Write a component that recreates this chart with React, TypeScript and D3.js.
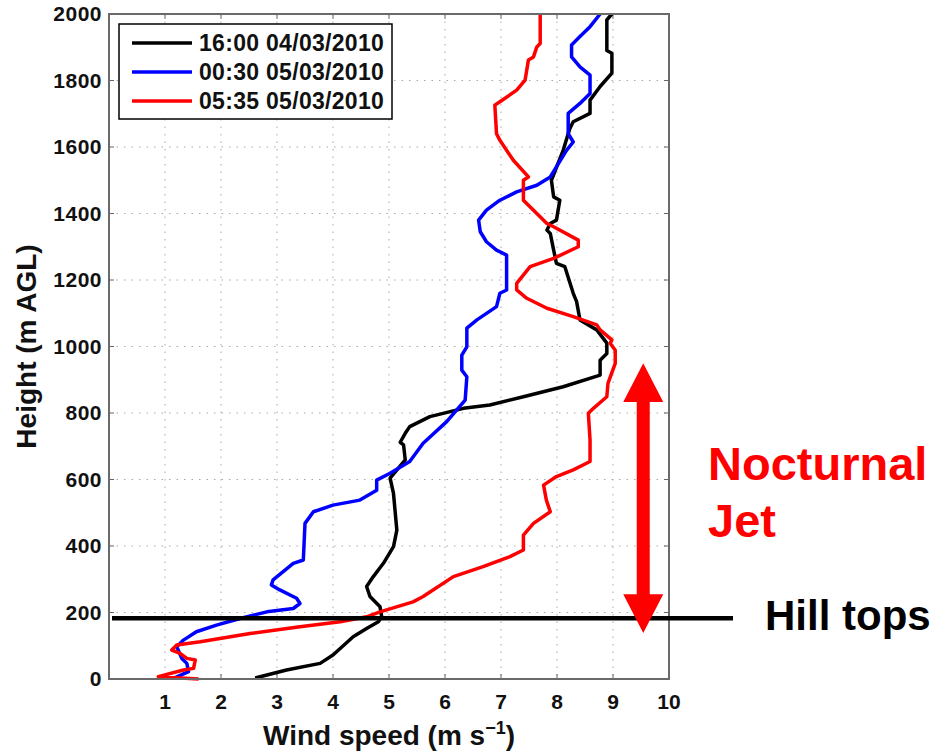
import React from "react";
import * as d3 from "d3";

// ---- data: [wind speed (m/s), height (m AGL)] ----
const black1600: [number, number][] = [
  [2.61, 3], [3.17, 27], [3.77, 47], [4.0, 72], [4.36, 127], [4.6, 152], [4.81, 172], [4.87, 187],
  [4.84, 217], [4.66, 248], [4.6, 278], [4.72, 308], [4.9, 348], [5.08, 398], [5.14, 448],
  [5.08, 558], [5.02, 604], [5.29, 659], [5.26, 704], [5.2, 712], [5.29, 739], [5.37, 759],
  [5.73, 789], [6.33, 814], [6.8, 824], [7.4, 849], [8.11, 879], [8.77, 914], [8.77, 959],
  [8.89, 979], [8.89, 1010], [8.71, 1050], [8.41, 1080], [8.35, 1135], [8.29, 1160],
  [8.14, 1240], [7.99, 1250], [7.94, 1290], [7.88, 1340], [7.82, 1350], [7.88, 1370],
  [7.99, 1380], [8.05, 1440], [7.94, 1450], [7.9, 1500], [8.11, 1590], [8.23, 1656],
  [8.29, 1676], [8.59, 1701], [8.59, 1741], [8.77, 1782], [8.98, 1822], [8.98, 1882],
  [8.89, 1890], [8.89, 1982], [8.98, 2000],
];
const blue0030: [number, number][] = [
  [1.15, 2], [1.42, 22], [1.39, 47], [1.3, 62], [1.21, 97], [1.33, 117], [1.56, 142],
  [1.92, 162], [2.34, 182], [2.82, 202], [3.29, 212], [3.41, 227], [3.35, 243], [3.05, 268],
  [2.9, 283], [2.93, 298], [3.29, 348], [3.47, 358], [3.5, 468], [3.65, 503], [4.0, 523],
  [4.48, 538], [4.78, 568], [4.78, 598], [5.02, 619], [5.37, 654], [5.61, 709], [6.03, 774],
  [6.36, 839], [6.39, 909], [6.3, 929], [6.3, 974], [6.39, 999], [6.39, 1055], [6.57, 1080],
  [6.92, 1120], [6.98, 1160], [7.1, 1170], [7.1, 1275], [6.92, 1290], [6.74, 1315],
  [6.63, 1345], [6.6, 1380], [6.74, 1410], [6.98, 1440], [7.28, 1465], [7.64, 1485],
  [7.88, 1510], [8.17, 1590], [8.29, 1615], [8.2, 1640], [8.2, 1701], [8.41, 1731],
  [8.59, 1761], [8.59, 1816], [8.41, 1841], [8.26, 1871], [8.26, 1907], [8.41, 1932],
  [8.59, 1962], [8.77, 2000],
];
const red0535: [number, number][] = [
  [1.6, 0], [0.88, 7], [1.33, 27], [1.51, 32], [1.54, 57], [1.39, 62], [1.27, 77], [1.12, 87],
  [1.21, 102], [1.63, 112], [2.52, 137], [3.41, 157], [4.13, 172], [4.6, 187], [4.84, 202],
  [5.43, 232], [5.61, 248], [6.15, 308], [6.68, 338], [7.16, 368], [7.4, 388], [7.4, 433],
  [7.58, 468], [7.88, 503], [7.81, 538], [7.76, 583], [7.99, 609], [8.29, 629], [8.59, 654],
  [8.59, 719], [8.56, 799], [8.65, 814], [8.89, 849], [8.91, 889], [9.04, 949], [9.04, 989],
  [8.95, 1010], [8.98, 1020], [8.77, 1050], [8.71, 1065], [8.29, 1090], [7.82, 1115],
  [7.46, 1145], [7.28, 1170], [7.28, 1190], [7.52, 1240], [7.94, 1265], [8.38, 1300],
  [8.38, 1320], [7.94, 1360], [7.82, 1370], [7.4, 1440], [7.4, 1500], [7.49, 1510],
  [7.22, 1560], [6.98, 1620], [6.92, 1640], [6.89, 1726], [6.98, 1736], [7.28, 1771],
  [7.43, 1801], [7.49, 1862], [7.58, 1871], [7.64, 1901], [7.7, 1911], [7.7, 2000],
];

const seriesNames = ["16:00 04/03/2010", "00:30 05/03/2010", "05:35 05/03/2010"];
const seriesColors = ["#000000", "#0000ff", "#ff0000"];
const seriesData = [black1600, blue0030, red0535];

const xTicks = [1, 2, 3, 4, 5, 6, 7, 8, 9, 10];
const yTicks = [0, 200, 400, 600, 800, 1000, 1200, 1400, 1600, 1800, 2000];

const hillTopHeight = 183;
const jetArrow = { x: 9.54, bottom: 138, top: 950, headLen: 117 };

const W = 932;
const H = 752;
const left = 109;
const right = 669;
const top = 14;
const bottom = 679;

export default function App() {
  const x = d3.scaleLinear().domain([0, 10]).range([left, right]);
  const y = d3.scaleLinear().domain([0, 2000]).range([bottom, top]);
  const line = d3
    .line<[number, number]>()
    .x((d) => x(d[0]))
    .y((d) => y(d[1]));

  const font = "'Liberation Sans', Arial, Helvetica, sans-serif";

  // arrow polygon
  const ax = x(jetArrow.x);
  const yTop = y(jetArrow.top);
  const yBot = y(jetArrow.bottom);
  const hl = (jetArrow.headLen * (bottom - top)) / 2000;
  const hw = 20;
  const sw = 6.5;
  const arrowPath =
    [
      [ax, yTop],
      [ax + hw, yTop + hl],
      [ax + sw, yTop + hl],
      [ax + sw, yBot - hl],
      [ax + hw, yBot - hl],
      [ax, yBot],
      [ax - hw, yBot - hl],
      [ax - sw, yBot - hl],
      [ax - sw, yTop + hl],
      [ax - hw, yTop + hl],
    ]
      .map((p, i) => (i === 0 ? "M" : "L") + p[0] + "," + p[1])
      .join("") + "Z";

  const legendX = 119;
  const legendY = 24;

  return (
    <svg
      width={W}
      height={H}
      style={{ position: "absolute", left: 0, top: 0, background: "#fff" }}
      fontFamily={font}
    >
      <rect x={0} y={0} width={W} height={H} fill="#fff" />
      {/* grid */}
      {xTicks.slice(0, -1).map((t) => (
        <line key={"gx" + t} x1={x(t)} x2={x(t)} y1={top} y2={bottom} stroke="#a8a8a8" strokeWidth={1} strokeDasharray="1.5,6" />
      ))}
      {yTicks.slice(1, -1).map((t) => (
        <line key={"gy" + t} x1={left} x2={right} y1={y(t)} y2={y(t)} stroke="#a8a8a8" strokeWidth={1} strokeDasharray="1.5,6" />
      ))}
      {/* ticks inward */}
      {xTicks.map((t) => (
        <g key={"tx" + t}>
          <line x1={x(t)} x2={x(t)} y1={bottom} y2={bottom - 5} stroke="#666" strokeWidth={1} />
          <line x1={x(t)} x2={x(t)} y1={top} y2={top + 5} stroke="#666" strokeWidth={1} />
          <text x={x(t)} y={709} textAnchor="middle" fontSize={21} fontWeight="bold" fill="#111">
            {t}
          </text>
        </g>
      ))}
      {yTicks.map((t) => (
        <g key={"ty" + t}>
          <line x1={left} x2={left + 5} y1={y(t)} y2={y(t)} stroke="#666" strokeWidth={1} />
          <line x1={right} x2={right - 5} y1={y(t)} y2={y(t)} stroke="#666" strokeWidth={1} />
          <text x={102} y={y(t) + 7} textAnchor="end" fontSize={21} fontWeight="bold" fill="#111" letterSpacing={0.5}>
            {t}
          </text>
        </g>
      ))}
      {/* data lines */}
      {seriesData.map((d, i) => (
        <path key={"s" + i} d={line(d) || ""} fill="none" stroke={seriesColors[i]} strokeWidth={3.5} strokeLinejoin="round" />
      ))}
      {/* frame */}
      <rect x={left} y={top} width={right - left} height={bottom - top} fill="none" stroke="#6a6a6a" strokeWidth={2} />
      {/* legend */}
      <rect x={legendX} y={legendY} width={273} height={95} fill="#fff" stroke="#000" strokeWidth={1.5} />
      {seriesNames.map((n, i) => (
        <g key={"lg" + i}>
          <line x1={132} x2={192} y1={43 + i * 29} y2={43 + i * 29} stroke={seriesColors[i]} strokeWidth={3.5} />
          <text x={199} y={51 + i * 29} fontSize={23} fontWeight="bold" fill="#111" letterSpacing={0.3}>
            {n}
          </text>
        </g>
      ))}
      {/* hill tops line */}
      <line x1={x(0) + 3} x2={733} y1={y(hillTopHeight)} y2={y(hillTopHeight)} stroke="#000" strokeWidth={4.5} />
      {/* jet arrow */}
      <path d={arrowPath} fill="#ff0000" />
      {/* annotations */}
      <text x={765} y={630} fontSize={42} fontWeight="bold" fill="#000">
        Hill tops
      </text>
      <text x={708} y={480} fontSize={47} fontWeight="bold" fill="#ff0000">
        Nocturnal
      </text>
      <text x={708} y={537} fontSize={47} fontWeight="bold" fill="#ff0000">
        Jet
      </text>
      {/* axis labels */}
      <text x={(left + right) / 2} y={745} textAnchor="middle" fontSize={28} fontWeight="bold" fill="#111">
        Wind speed (m s
        <tspan fontSize={18} dy={-11}>−1</tspan>
        <tspan dy={11}>)</tspan>
      </text>
      <text
        transform={`translate(36,${(top + bottom) / 2}) rotate(-90)`}
        textAnchor="middle"
        fontSize={28}
        fontWeight="bold"
        fill="#111"
      >
        Height (m AGL)
      </text>
    </svg>
  );
}
